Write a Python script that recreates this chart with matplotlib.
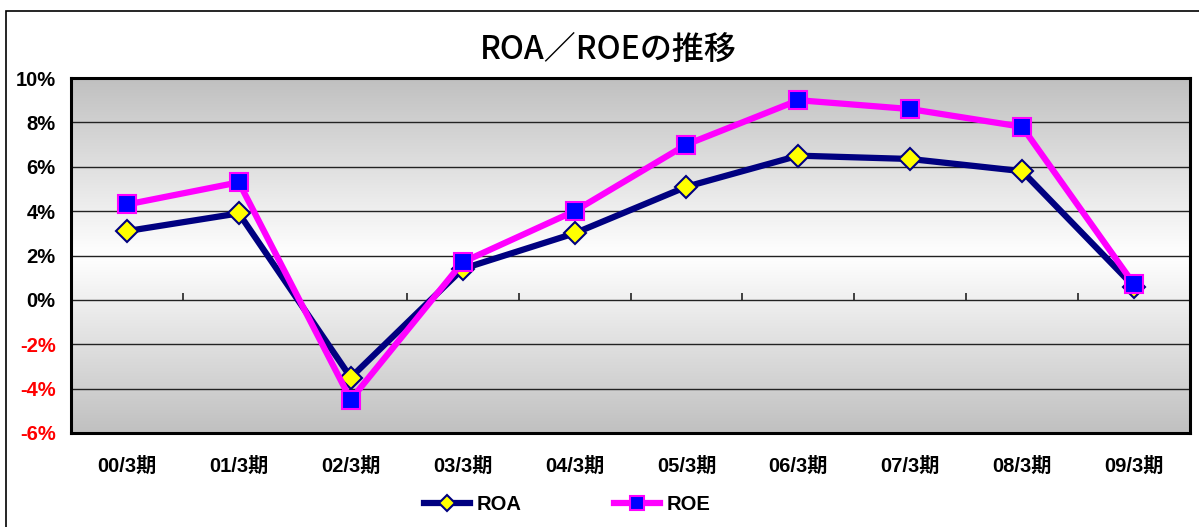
import numpy as np
import matplotlib
matplotlib.use("Agg")
import matplotlib.pyplot as plt
from matplotlib.patches import Rectangle
from matplotlib.colors import LinearSegmentedColormap

categories = ["00/3期", "01/3期", "02/3期", "03/3期", "04/3期",
              "05/3期", "06/3期", "07/3期", "08/3期", "09/3期"]
roa = [3.1, 3.9, -3.5, 1.4, 3.0, 5.1, 6.5, 6.35, 5.8, 0.6]
roe = [4.3, 5.3, -4.5, 1.7, 4.0, 7.0, 9.0, 8.6, 7.8, 0.7]
yticks = [-6, -4, -2, 0, 2, 4, 6, 8, 10]
title = "ROA／ROEの推移"

FONT = ["Liberation Sans", "Noto Sans CJK JP", "DejaVu Sans"]
plt.rcParams["font.family"] = FONT

W, H = 1199, 527
fig = plt.figure(figsize=(W / 100, H / 100), dpi=100)

# outer chart frame
fig.patches.append(Rectangle((6 / W, -0.1), 1.2, 1 - 11 / H + 0.1,
                             transform=fig.transFigure, fill=False,
                             edgecolor="black", linewidth=1.2, zorder=0))

L, R, T, B = 71, 1190, 78, 433
ax = fig.add_axes([L / W, 1 - B / H, (R - L) / W, (B - T) / H])

x = np.arange(len(categories))
ax.set_xlim(-0.5, len(categories) - 0.5)
ax.set_ylim(-6, 10)

# gradient background: gray at edges, white in the middle
cmap = LinearSegmentedColormap.from_list("g", ["#c0c0c0", "#ffffff", "#c0c0c0"])
grad = np.linspace(0, 1, 256).reshape(-1, 1)
ax.imshow(grad, extent=[-0.5, len(categories) - 0.5, -6, 10], aspect="auto",
          cmap=cmap, origin="lower", zorder=0, interpolation="bilinear")

for yv in yticks[1:-1]:
    ax.axhline(yv, color="#222222", linewidth=1.0, zorder=1)

# category boundary ticks on the zero line
ax.vlines(np.arange(len(categories) - 1) + 0.5, 0, 0.3, color="#222222",
          linewidth=1.2, zorder=1)

ax.plot(x, roa, color="#000080", linewidth=4.5, marker="D", markersize=11,
        markerfacecolor="#ffff00", markeredgecolor="#000080",
        markeredgewidth=1.5, label="ROA", zorder=3, solid_joinstyle="miter")
ax.plot(x, roe, color="#ff00ff", linewidth=4.5, marker="s", markersize=13,
        markerfacecolor="#0000ff", markeredgecolor="#ff00ff",
        markeredgewidth=1.5, label="ROE", zorder=4, solid_joinstyle="miter")

for s in ax.spines.values():
    s.set_linewidth(2.2)
    s.set_color("black")
    s.set_zorder(5)

ax.set_yticks(yticks)
ax.set_yticklabels([f"{v}%" for v in yticks], fontsize=14.5, fontweight="bold")
for lab, v in zip(ax.get_yticklabels(), yticks):
    lab.set_color("#ff0000" if v < 0 else "black")
ax.set_xticks(x)
ax.set_xticklabels(categories, fontsize=14.5, fontweight="bold")
ax.tick_params(axis="y", length=0, pad=11)
ax.tick_params(axis="x", length=0, pad=17)

fig.text(608 / W, 1 - 50 / H, title, ha="center", va="center", fontsize=23,
         family=["Noto Sans CJK JP", "DejaVu Sans"], fontweight="medium")

fig.legend(loc="center", bbox_to_anchor=(567 / W, 1 - 505 / H), ncol=2,
           frameon=False, prop={"size": 14.5, "weight": "bold"},
           handlelength=2.3, handletextpad=0.3, columnspacing=4.6,
           markerscale=0.75)

fig.savefig("out.png", dpi=100)
